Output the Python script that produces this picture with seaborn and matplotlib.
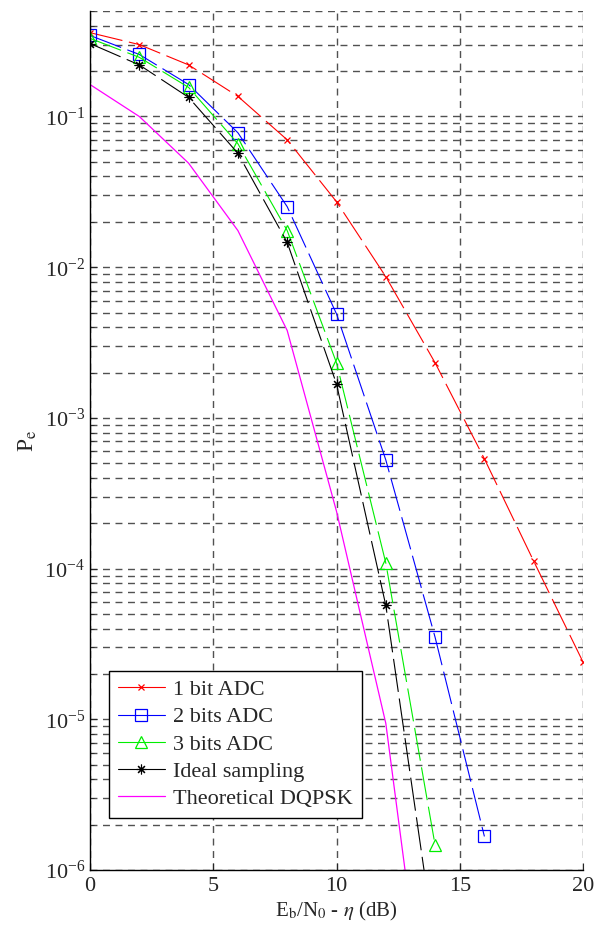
import numpy as np
import matplotlib
matplotlib.use('Agg')
import matplotlib.pyplot as plt
import seaborn as sns
from matplotlib.ticker import LogLocator, LogFormatterMathtext, NullFormatter

# Eb/N0 - eta (dB)
snr = [0, 2, 4, 6, 8, 10, 12, 14, 16, 18, 20]

# bit error probabilities
pe_1bit = [0.36, 0.30, 0.22, 0.136, 0.070, 0.0272, 0.00865, 0.00232, 5.35e-4, 1.12e-4, 2.4e-5]
pe_2bit = [0.345, 0.258, 0.163, 0.078, 0.0252, 0.0049, 5.26e-4, 3.5e-5, 1.67e-6]
pe_3bit = [0.33, 0.247, 0.156, 0.066, 0.0175, 0.00232, 1.09e-4, 1.46e-6]
pe_ideal = [0.305, 0.22, 0.134, 0.057, 0.0146, 0.00168, 5.7e-5, 3.1e-7]
pe_theory = [0.163, 0.10, 0.049, 0.0175, 0.0038, 2.4e-4, 9.4e-6, 3e-8]

sns.set_style('white')
plt.rcParams['font.family'] = ['Liberation Serif', 'DejaVu Serif']
plt.rcParams['mathtext.fontset'] = 'stix'

fig = plt.figure(figsize=(5.94, 9.3), dpi=100)
ax = fig.add_axes([0.1515, 0.0645, 0.83, 0.9235])
ax.set_yscale('log')

dash = (0, (30, 6))
sns.lineplot(x=snr[:len(pe_1bit)], y=pe_1bit, ax=ax, color='#ff0000', linestyle=dash, lw=0.8,
             marker='x', markersize=5, markeredgecolor='#ff0000', markeredgewidth=0.9,
             label='1 bit ADC')
sns.lineplot(x=snr[:len(pe_2bit)], y=pe_2bit, ax=ax, color='#0000ff', linestyle=dash, lw=0.8,
             marker='s', markersize=8.5, markeredgecolor='#0000ff', markerfacecolor='none',
             markeredgewidth=0.9, label='2 bits ADC')
sns.lineplot(x=snr[:len(pe_3bit)], y=pe_3bit, ax=ax, color='#00ee00', linestyle=dash, lw=0.8,
             marker='^', markersize=9, markeredgecolor='#00ee00', markerfacecolor='none',
             markeredgewidth=0.9, label='3 bits ADC')
sns.lineplot(x=snr[:len(pe_ideal)], y=pe_ideal, ax=ax, color='black', linestyle=dash, lw=0.8,
             marker=(8, 2, 0), markersize=7, markeredgecolor='black', markeredgewidth=0.8,
             label='Ideal sampling')
sns.lineplot(x=snr[:len(pe_theory)], y=pe_theory, ax=ax, color='#ff00ff', lw=0.9,
             label='Theoretical DQPSK')

ax.set_xlim(0, 20)
ax.set_ylim(1e-6, 0.5)
ax.set_xticks([0, 5, 10, 15, 20])
ax.yaxis.set_major_locator(LogLocator(base=10, numticks=10))
ax.yaxis.set_minor_locator(LogLocator(base=10, subs=np.arange(2, 10), numticks=20))
ax.yaxis.set_major_formatter(LogFormatterMathtext())
ax.yaxis.set_minor_formatter(NullFormatter())

grid_kw = dict(color='#333333', linestyle=(0, (5, 4)), linewidth=1.0, alpha=0.85)
ax.grid(True, which='major', axis='both', **grid_kw)
ax.grid(True, which='minor', axis='y', **grid_kw)

for s in ['top', 'right']:
    ax.spines[s].set_visible(False)
for s in ['left', 'bottom']:
    ax.spines[s].set_color('black')
    ax.spines[s].set_linewidth(1.0)

ax.tick_params(axis='both', which='both', direction='in', labelsize=16, left=True, bottom=True)
ax.tick_params(axis='both', which='major', length=5)
ax.tick_params(axis='y', which='minor', length=3)
ax.tick_params(axis='x', pad=5)

ax.set_xlabel(r'E$_\mathrm{b}$/N$_\mathrm{0}$ - $\eta$ (dB)', fontsize=15, labelpad=3)
ax.set_ylabel(r'P$_\mathrm{e}$', fontsize=17, labelpad=4)

leg = ax.legend(loc='lower left', bbox_to_anchor=(0.0385, 0.0605), borderaxespad=0,
                fontsize=16, frameon=True, fancybox=False, edgecolor='black', framealpha=1,
                handlelength=2.1, borderpad=0.4, labelspacing=0.3, handletextpad=0.4)
leg.get_frame().set_linewidth(1.0)
for h in leg.get_lines():
    h.set_linestyle('-')

fig.savefig('out.png', dpi=100)
